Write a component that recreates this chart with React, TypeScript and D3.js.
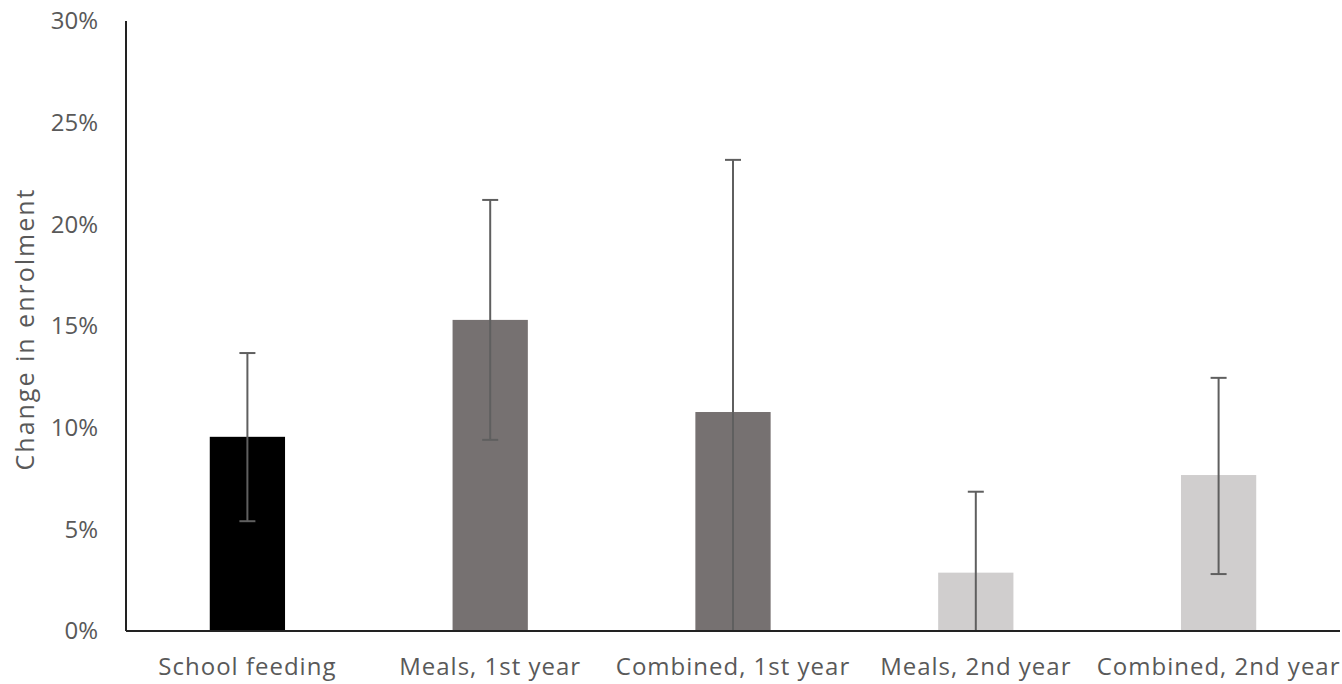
import React from "react";
import * as d3 from "d3";

const categories = ["School feeding", "Meals, 1st year", "Combined, 1st year", "Meals, 2nd year", "Combined, 2nd year"];
const values = [9.55, 15.3, 10.77, 2.87, 7.67];
const errLow = [5.4, 9.4, 0, 0, 2.8];
const errHigh = [13.67, 21.2, 23.17, 6.85, 12.45];
const barColors = ["#000000", "#767171", "#767171", "#d0cece", "#d0cece"];
const yTicks = [0, 5, 10, 15, 20, 25, 30];

const W = 1342;
const H = 684;
const left = 126;
const right = 1340;
const top = 21;
const bottom = 631;

export default function App() {
  const x = d3.scaleBand<string>().domain(categories).range([left, right]).paddingInner(0.69).paddingOuter(0.345);
  const y = d3.scaleLinear().domain([0, 30]).range([bottom, top]);
  const font = "'Open Sans', 'Noto Sans', sans-serif";
  const textColor = "#595959";
  return (
    <svg width={W} height={H} style={{ position: "absolute", left: 0, top: 0, background: "#fff" }}>
      {categories.map((c, i) => (
        <rect key={c} x={x(c)} y={y(values[i])} width={x.bandwidth()} height={y(0) - y(values[i])} fill={barColors[i]} />
      ))}
      {categories.map((c, i) => {
        const cx = (x(c) as number) + x.bandwidth() / 2;
        return (
          <g key={"e" + c} stroke="#5f5f5f" strokeWidth={2}>
            <line x1={cx} x2={cx} y1={y(errLow[i])} y2={y(errHigh[i])} />
            <line x1={cx - 8} x2={cx + 8} y1={y(errHigh[i])} y2={y(errHigh[i])} />
            {errLow[i] > 0 && <line x1={cx - 8} x2={cx + 8} y1={y(errLow[i])} y2={y(errLow[i])} />}
          </g>
        );
      })}
      <line x1={left} x2={left} y1={top} y2={bottom} stroke="#222" strokeWidth={2} />
      <line x1={left} x2={right} y1={bottom} y2={bottom} stroke="#222" strokeWidth={2} />
      {yTicks.map((t) => (
        <text key={t} x={98} y={y(t)} dy="0.35em" textAnchor="end" fontFamily={font} fontSize={24} fill={textColor}>
          {t}%
        </text>
      ))}
      {categories.map((c) => (
        <text key={"l" + c} x={(x(c) as number) + x.bandwidth() / 2} y={667} dy="0.35em" textAnchor="middle" fontFamily={font} fontSize={24} letterSpacing={1} fill={textColor}>
          {c}
        </text>
      ))}
      <text transform={`translate(25, 329) rotate(-90)`} dy="0.35em" textAnchor="middle" fontFamily={font} fontSize={25} letterSpacing={2} fill={textColor}>
        Change in enrolment
      </text>
    </svg>
  );
}
